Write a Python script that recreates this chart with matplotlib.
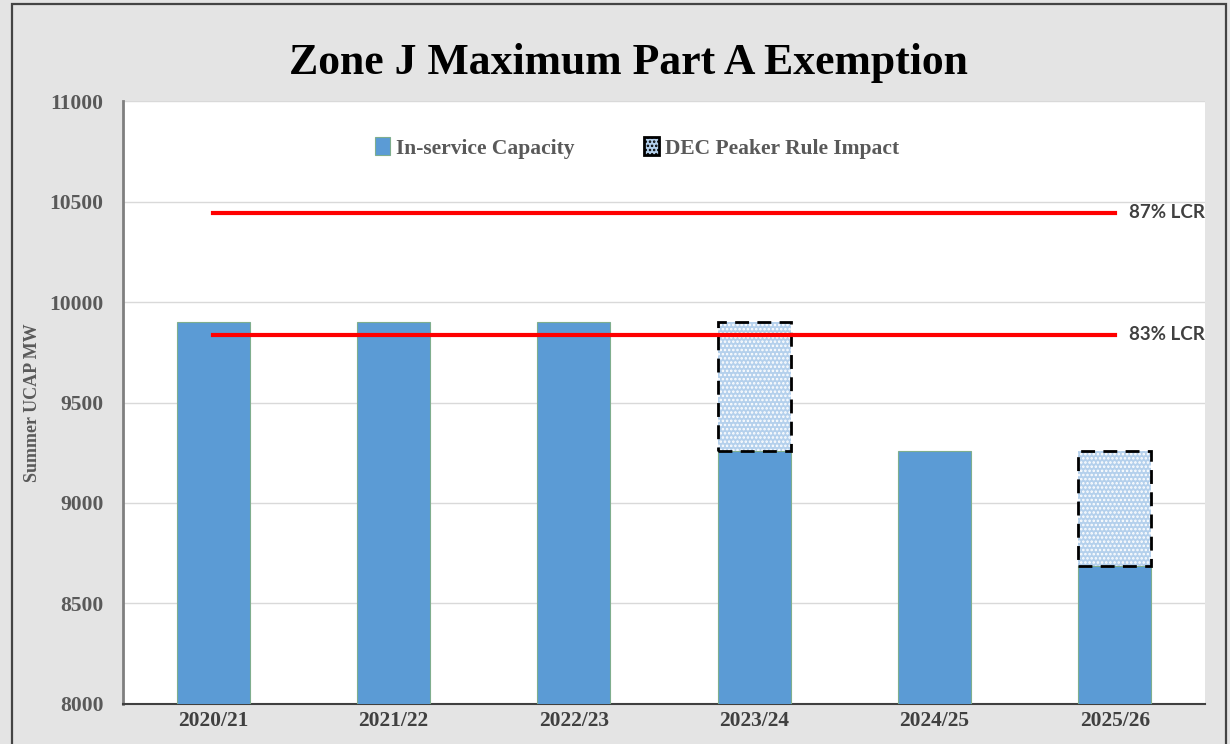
import matplotlib.pyplot as plt
from matplotlib.patches import Rectangle

years = ['2020/21', '2021/22', '2022/23', '2023/24', '2024/25', '2025/26']
in_service = [9900, 9900, 9900, 9260, 9260, 8687]
dec_impact = [0, 0, 0, 640, 0, 573]
lcr_87 = 10443
lcr_83 = 9836

plt.rcParams['font.family'] = ['Liberation Serif', 'DejaVu Serif']
plt.rcParams['hatch.linewidth'] = 1.2

fig = plt.figure(figsize=(12.3, 7.44), dpi=100)
fig.patch.set_facecolor('#e4e4e4')
fig.patches.append(Rectangle((0.0098, -0.05), 0.987, 1.044, transform=fig.transFigure,
                             fill=False, edgecolor='#444444', linewidth=1.6))

ax = fig.add_axes([0.1, 0.0538, 0.8797, 0.8104])
ax.set_facecolor('white')
x = list(range(len(years)))

ax.bar(x, in_service, width=0.405, color='#5b9bd5', edgecolor='#7fae8e', linewidth=0.8,
       label='In-service Capacity', zorder=3)
ax.bar(x, dec_impact, width=0.405, bottom=in_service, color='#b4d0ec', edgecolor='white',
       hatch='....', linewidth=0, zorder=3)
ax.bar([i for i in x if dec_impact[i] > 0], [d for d in dec_impact if d > 0], width=0.405,
       bottom=[in_service[i] for i in x if dec_impact[i] > 0], fill=False,
       edgecolor='black', linestyle=(0, (5, 3)), linewidth=2, zorder=4)

# legend proxy for the hatched bar
proxy = Rectangle((0, 0), 1, 1, facecolor='#b4d0ec', edgecolor='black', linewidth=2,
                  hatch='....', label='DEC Peaker Rule Impact')

ax.plot([0, 5], [lcr_87, lcr_87], color='#ff0000', linewidth=3, zorder=5)
ax.plot([0, 5], [lcr_83, lcr_83], color='#ff0000', linewidth=3, zorder=5)
for val, txt in [(lcr_87, '87% LCR'), (lcr_83, '83% LCR')]:
    ax.text(5.08, val, txt, fontsize=13.5, fontweight='bold', color='#404040',
            family=['Lato', 'DejaVu Sans'], va='center', ha='left')

ax.set_xlim(-0.5, 5.5)
ax.set_ylim(8000, 11000)
ax.set_yticks(range(8000, 11001, 500))
ax.grid(axis='y', color='#d9d9d9', linewidth=1, zorder=0)
ax.set_xticks(x)
ax.set_xticklabels(years)
ax.tick_params(axis='both', length=0, labelsize=15.5, colors='#595959')
for lab in ax.get_xticklabels() + ax.get_yticklabels():
    lab.set_fontweight('bold')
for lab in ax.get_xticklabels():
    lab.set_color('#404040')
ax.tick_params(axis='x', pad=5)
ax.tick_params(axis='y', pad=14)

for s in ['top', 'right']:
    ax.spines[s].set_visible(False)
ax.spines['left'].set_color('#7f7f7f')
ax.spines['left'].set_linewidth(2)
ax.spines['bottom'].set_color('#404040')
ax.spines['bottom'].set_linewidth(1.5)

ax.set_ylabel('Summer UCAP MW', fontsize=13, fontweight='bold', color='#595959', labelpad=6)

handles = [ax.containers[0], proxy]
leg = ax.legend(handles, ['In-service Capacity', 'DEC Peaker Rule Impact'], loc='upper center',
                bbox_to_anchor=(0.475, 0.972), ncol=2, frameon=False, columnspacing=3.2,
                handlelength=0.7, handleheight=0.9, handletextpad=0.3,
                prop={'size': 15.5, 'weight': 'bold'})
for t in leg.get_texts():
    t.set_color('#595959')

fig.text(0.511, 0.915, 'Zone J Maximum Part A Exemption', ha='center', va='center',
         fontsize=31.5, fontweight='bold', color='black')

fig.savefig('out.png', dpi=100, facecolor=fig.get_facecolor())
